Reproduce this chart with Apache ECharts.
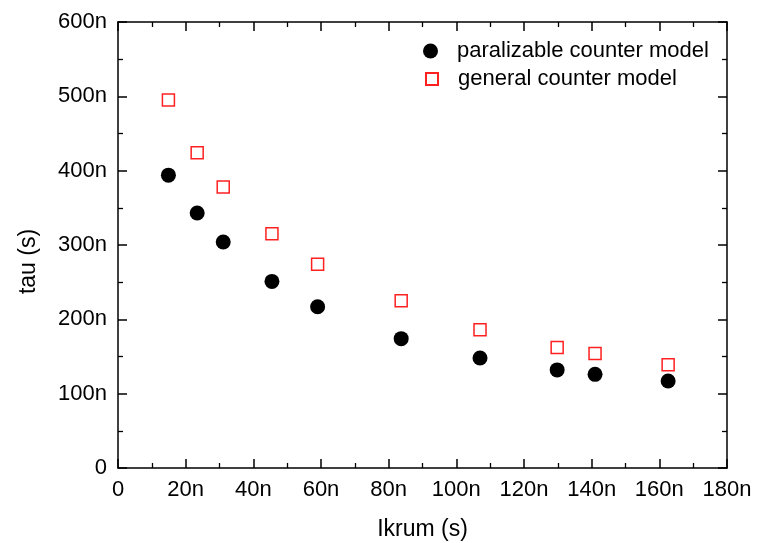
<!DOCTYPE html>
<html>
<head>
<meta charset="utf-8">
<script src="https://cdn.jsdelivr.net/npm/echarts@6/dist/echarts.min.js"></script>
<style>html,body{margin:0;padding:0;background:#fff}#c{width:760px;height:543px}</style>
</head>
<body>
<div id="c"></div>
<script>
// values in nano-units (n)
var ikrum = [14.9, 23.4, 31.1, 45.5, 59.0, 83.7, 107.0, 129.8, 141.0, 162.6];
var tauParalizable = [394, 343, 304, 251, 217, 174, 148, 132, 126, 117];
var tauGeneral = [495, 424, 378, 315, 274, 225, 186, 162, 154, 139];
var xTicks = [0, 20, 40, 60, 80, 100, 120, 140, 160, 180];
var yTicks = [0, 100, 200, 300, 400, 500, 600];

function pairs(xs, ys) { return xs.map(function (x, i) { return [x, ys[i]]; }); }
function fmt(v) { return v === 0 ? '0' : v + 'n'; }

var FONT = 'Liberation Sans, Arial, sans-serif';
var lineStyle = { color: '#000', width: 1.5 };
var axisBase = function (extra) {
  return Object.assign({
    type: 'value',
    axisLine: { show: true, onZero: false, lineStyle: lineStyle },
    axisTick: { show: true, inside: true, length: 9, lineStyle: lineStyle },
    minorTick: { show: true, splitNumber: 2, length: 5, lineStyle: { color: '#000', width: 1.3 } },
    splitLine: { show: false },
    minorSplitLine: { show: false }
  }, extra);
};

var chart = echarts.init(document.getElementById('c'), null, { renderer: 'canvas' });
chart.setOption({
  backgroundColor: '#fff',
  animation: false,
  grid: { left: 118, right: 33, top: 22, bottom: 75, containLabel: false, outerBoundsMode: 'none' },
  xAxis: [
    axisBase({
      position: 'bottom', min: xTicks[0], max: xTicks[xTicks.length - 1], interval: 20,
      name: 'Ikrum (s)', nameLocation: 'middle', nameGap: 50,
      nameTextStyle: { fontFamily: FONT, fontSize: 23, color: '#000' },
      axisLabel: { formatter: fmt, margin: 11, fontFamily: FONT, fontSize: 22, color: '#000' }
    }),
    axisBase({
      position: 'top', min: xTicks[0], max: xTicks[xTicks.length - 1], interval: 20,
      axisLabel: { show: false }
    })
  ],
  yAxis: [
    axisBase({
      position: 'left', min: yTicks[0], max: yTicks[yTicks.length - 1], interval: 100,
      name: 'tau (s)', nameLocation: 'middle', nameGap: 78,
      nameTextStyle: { fontFamily: FONT, fontSize: 23, color: '#000', padding: [0, 33, 0, 0] },
      axisLabel: { formatter: fmt, margin: 11, fontFamily: FONT, fontSize: 22, color: '#000' }
    }),
    axisBase({
      position: 'right', min: yTicks[0], max: yTicks[yTicks.length - 1], interval: 100,
      axisLabel: { show: false }
    })
  ],
  legend: [
    {
      data: ['paralizable counter model'], orient: 'vertical', left: 418, top: 35,
      itemWidth: 15, itemHeight: 15, icon: 'circle',
      textStyle: { fontFamily: FONT, fontSize: 22, color: '#000', padding: [0, 0, 0, 14] }
    },
    {
      data: ['general counter model'], orient: 'vertical', left: 420, top: 63,
      itemWidth: 12, itemHeight: 12,
      textStyle: { fontFamily: FONT, fontSize: 22, color: '#000', padding: [0, 0, 0, 15] }
    }
  ],
  series: [
    {
      name: 'paralizable counter model', type: 'scatter', symbol: 'circle', symbolSize: 15,
      itemStyle: { color: '#000', opacity: 1 },
      data: pairs(ikrum, tauParalizable)
    },
    {
      name: 'general counter model', type: 'scatter', symbol: 'rect', symbolSize: 12,
      itemStyle: { color: 'rgba(255,255,255,0)', borderColor: '#ff2020', borderWidth: 1.5, opacity: 1 },
      data: pairs(ikrum, tauGeneral)
    }
  ]
});
</script>
</body>
</html>
